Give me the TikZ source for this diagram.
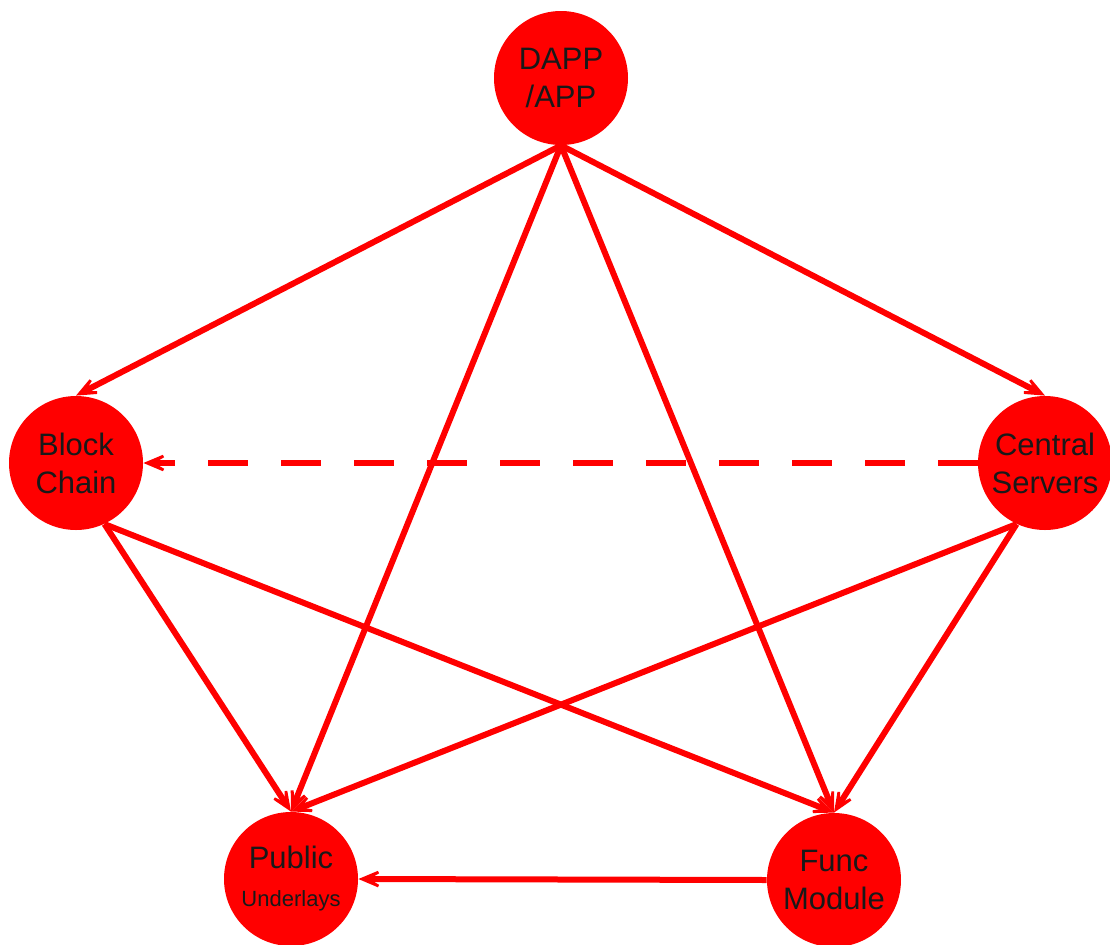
\documentclass[tikz,border=0pt]{standalone}
\usepackage{fontspec}
\setmainfont{Liberation Sans}
\usetikzlibrary{arrows.meta}

\begin{document}
\begin{tikzpicture}[x=0.5pt,y=-0.5pt]
      \tikzstyle{ball}=[circle,fill=red,minimum size=67pt,inner sep=0pt,align=center,text=black!90,font=\fontsize{15.5}{19}\selectfont]
      \tikzstyle{link}=[red,line width=3pt,-{Stealth[length=19pt,width=16pt,inset=13.5pt]}]
      \useasboundingbox (0,0) rectangle (1110,944);
      \node[ball] (dapp) at (561,78) {DAPP\\/APP};
      \node[ball] (block) at (76,463) {Block\\Chain};
      \node[ball] (central) at (1045,463) {Central\\Servers};
      \node[ball] (public) at (291,879) {Public\\{\fontsize{11}{12}\selectfont Underlays}};
      \node[ball] (func) at (834,880) {Func\\Module};
      \draw[link] (dapp.south) -- (block.north);
      \draw[link] (dapp.south) -- (central.north);
      \draw[link] (dapp.south) -- (public.north);
      \draw[link] (dapp.south) -- (func.north);
      \draw[link,dash pattern=on 20pt off 16.5pt] (central.west) -- (block.east);
      \draw[link] (block.-65) -- (public.north);
      \draw[link] (block.-65) -- (func.north);
      \draw[link] (central.-115) -- (public.north);
      \draw[link] (central.-115) -- (func.north);
      \draw[link] (func.west) -- (public.east);
    \end{tikzpicture}
\end{document}
